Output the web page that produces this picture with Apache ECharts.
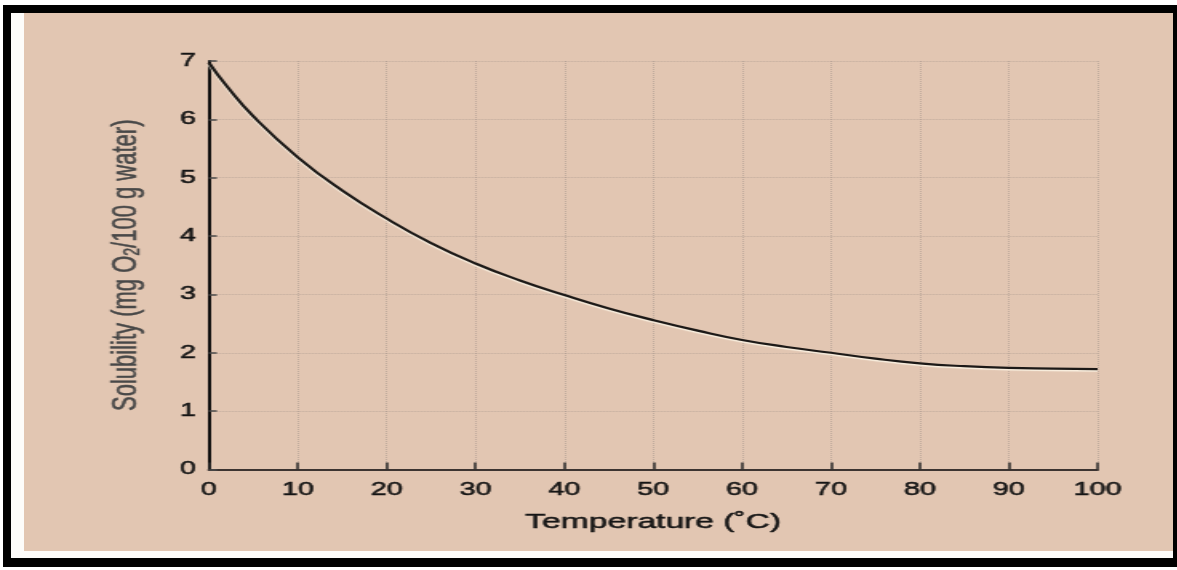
<!DOCTYPE html>
<html>
<head>
<meta charset="utf-8">
<script src="https://cdn.jsdelivr.net/npm/echarts@6/dist/echarts.min.js"></script>
<style>
  html, body { margin:0; padding:0; background:#fff; width:1177px; height:570px; overflow:hidden; }
  .abs { position:absolute; }
</style>
</head>
<body>
<div class="abs" style="left:3px;top:5px;width:1174px;height:562px;background:#000;"></div>
<div class="abs" style="left:11px;top:13px;width:1162px;height:545px;background:#fdfcfa;"></div>
<div class="abs" style="left:24px;top:13px;width:1149px;height:538px;background:#e2c6b2;"></div>
<div id="chart" class="abs" style="left:0;top:0;width:735.6px;height:570px;transform:scaleX(1.6);transform-origin:0 0;"></div>
<script>
// Data
const temperatures = [0, 2, 5, 10, 15, 20, 25, 30, 35, 40, 45, 50, 55, 60, 65, 70, 75, 80, 85, 90, 95, 100];
const solubility   = [6.97, 6.57, 6.05, 5.35, 4.78, 4.30, 3.88, 3.53, 3.24, 2.99, 2.76, 2.56, 2.38, 2.22, 2.10, 2.00, 1.90, 1.82, 1.77, 1.74, 1.73, 1.72];
const xTitle = 'Temperature (˚C)';
const yTitleParts = ['Solubility (mg O', '2', '/100 g water)'];

const FONT = "'Liberation Sans', Arial, sans-serif";
const TXT = { fontFamily: FONT, color: '#151515', textBorderColor: '#151515', textBorderWidth: 0.5 };
const YT = { fontFamily: FONT, color: '#484848', textBorderColor: '#484848', textBorderWidth: 0.4 };
const chart = echarts.init(document.getElementById('chart'), null, { renderer: 'canvas' });
chart.setOption({
  animation: false,
  backgroundColor: 'transparent',
  grid: { left: 130.6, right: 50, top: 61, bottom: 100.5, containLabel: false, outerBoundsMode: 'none' },
  xAxis: {
    type: 'value', min: 0, max: 100, interval: 10,
    name: xTitle, nameLocation: 'middle', nameGap: 42,
    nameTextStyle: Object.assign({ fontSize: 21 }, TXT),
    axisLine: { show: true, onZero: false, lineStyle: { color: '#3c3431', width: 2 } },
    axisTick: { show: true, inside: true, length: 7, lineStyle: { color: '#2a2a2a', width: 1.5 } },
    axisLabel: Object.assign({ margin: 12, fontSize: 18 }, TXT),
    splitLine: { show: true, lineStyle: { color: 'rgba(150,138,130,0.45)', type: 'dotted', width: 1 } }
  },
  yAxis: {
    type: 'value', min: 0, max: 7, interval: 1,
    name: '{a|' + yTitleParts[0] + '}{s|' + yTitleParts[1] + '}{a|' + yTitleParts[2] + '}',
    nameLocation: 'middle', nameGap: 40, nameRotate: 90,
    nameTextStyle: Object.assign({
      fontSize: 22,
      rich: {
        a: Object.assign({ fontSize: 22 }, YT),
        s: Object.assign({ fontSize: 14, padding: [9, 0, 0, 0] }, YT)
      }
    }, YT),
    axisLine: { show: true, onZero: false, lineStyle: { color: '#0d0d0d', width: 2 } },
    axisTick: { show: true, inside: true, length: 5, lineStyle: { color: '#4a4a4a', width: 1.5 } },
    axisLabel: Object.assign({ margin: 8, fontSize: 18 }, TXT),
    splitLine: { show: true, lineStyle: { color: 'rgba(150,138,130,0.45)', type: 'dotted', width: 1 } }
  },
  series: [{
    type: 'line',
    data: temperatures.map((t, i) => [t, solubility[i]]),
    smooth: true,
    showSymbol: false,
    lineStyle: { color: '#1c1917', width: 2.2, shadowColor: 'rgba(255,250,235,0.8)', shadowOffsetY: 1.5, shadowBlur: 1 }
  }]
});
</script>
</body>
</html>
